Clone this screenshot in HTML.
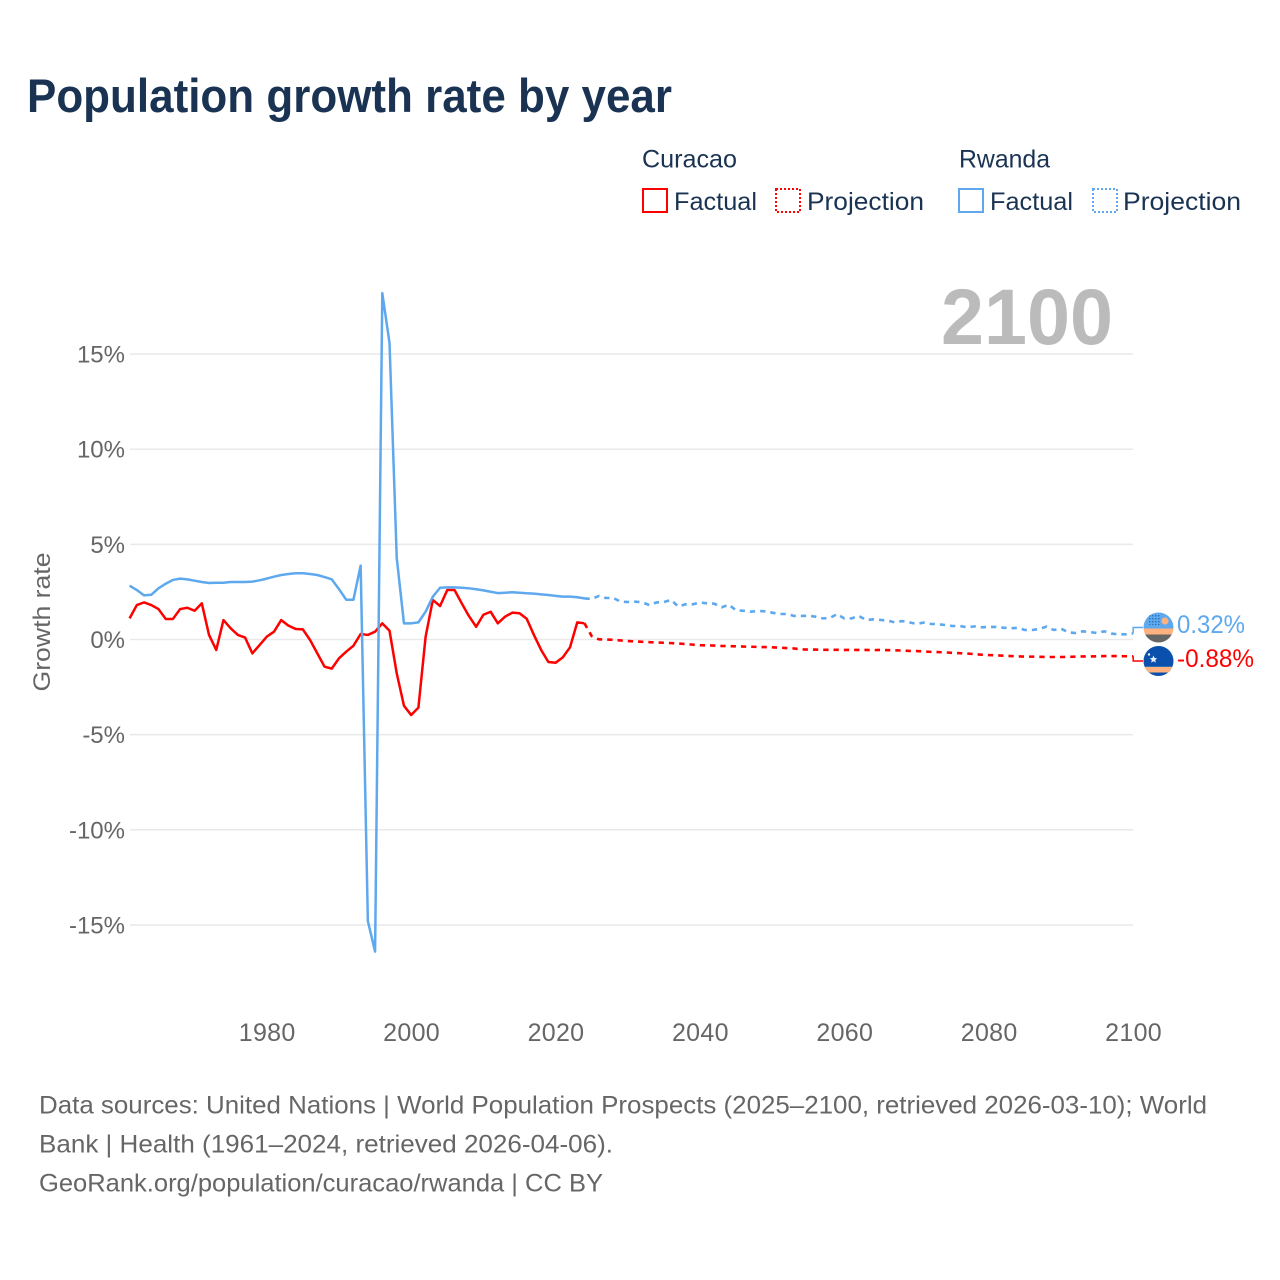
<!DOCTYPE html>
<html lang="en">
<head>
<meta charset="utf-8">
<title>Population growth rate by year</title>
<style>
html,body{margin:0;padding:0;background:#fff;width:1280px;height:1280px;overflow:hidden}
svg{display:block;font-family:"Liberation Sans",sans-serif}
</style>
</head>
<body>
<svg id="chart" width="1280" height="1280" viewBox="0 0 1280 1280">
  <defs>
    <clipPath id="clip-rw"><circle cx="1158.5" cy="627.5" r="15"/></clipPath>
    <clipPath id="clip-cw"><circle cx="1158.5" cy="661" r="15"/></clipPath>
    <pattern id="dots" width="3" height="3" patternUnits="userSpaceOnUse"><rect width="1.4" height="1.4" fill="#2f6fb5"/></pattern>
  </defs>

  <text x="27" y="112" font-size="47" font-weight="700" fill="#1a3353" textLength="645" lengthAdjust="spacingAndGlyphs">Population growth rate by year</text>

  <g>
    <text x="642" y="167.5" font-size="25" fill="#1a3353" textLength="95" lengthAdjust="spacingAndGlyphs">Curacao</text>
    <rect x="643" y="189" width="24" height="23" fill="none" stroke="#ff0000" stroke-width="2"/>
    <text x="674" y="210" font-size="25" fill="#1a3353" textLength="83" lengthAdjust="spacingAndGlyphs">Factual</text>
    <rect x="776" y="189" width="24" height="23" fill="none" stroke="#ff0000" stroke-width="2" stroke-dasharray="2 2"/>
    <text x="807" y="210" font-size="25" fill="#1a3353" textLength="117" lengthAdjust="spacingAndGlyphs">Projection</text>
    <text x="959" y="167.5" font-size="25" fill="#1a3353" textLength="91" lengthAdjust="spacingAndGlyphs">Rwanda</text>
    <rect x="959" y="189" width="24" height="23" fill="none" stroke="#5ea8ee" stroke-width="2"/>
    <text x="990" y="210" font-size="25" fill="#1a3353" textLength="83" lengthAdjust="spacingAndGlyphs">Factual</text>
    <rect x="1093" y="189" width="24" height="23" fill="none" stroke="#5ea8ee" stroke-width="2" stroke-dasharray="2 2"/>
    <text x="1123" y="210" font-size="25" fill="#1a3353" textLength="118" lengthAdjust="spacingAndGlyphs">Projection</text>
  </g>

  <g id="grid"></g>
  <g id="yaxis"></g>
  <g id="xaxis"></g>

  <text x="1113" y="344" font-size="79" font-weight="700" fill="#bbbbbb" text-anchor="end" textLength="172" lengthAdjust="spacingAndGlyphs">2100</text>

  <text transform="translate(50,622) rotate(-90)" font-size="24.5" fill="#666666" text-anchor="middle" textLength="139" lengthAdjust="spacingAndGlyphs">Growth rate</text>

  <g id="series"></g>

  <g clip-path="url(#clip-rw)">
    <rect x="1143" y="612" width="31" height="16.5" fill="#5ea8ee"/>
    <rect x="1148" y="615" width="13" height="10" fill="url(#dots)"/>
    <circle cx="1165" cy="621" r="3.5" fill="#ffb27f"/>
    <rect x="1143" y="628.5" width="31" height="6" fill="#ffb27f"/>
    <rect x="1143" y="634.5" width="31" height="9" fill="#666666"/>
  </g>
  <g clip-path="url(#clip-cw)">
    <rect x="1143" y="645" width="31" height="32" fill="#0a50ac"/>
    <rect x="1143" y="666" width="31" height="6.5" fill="#ffb27f"/>
    <rect x="1143" y="666" width="31" height="1" fill="#2f6fb5"/>
    <polygon points="1153.5,655.5 1154.6,658 1157.2,658.2 1155.2,660 1155.9,662.6 1153.5,661.2 1151.1,662.6 1151.8,660 1149.8,658.2 1152.4,658" fill="#e8f0fb"/>
    <circle cx="1149" cy="654.5" r="1.2" fill="#e8f0fb"/>
  </g>

  <g id="labels"></g>

  <g font-size="25" fill="#666666">
    <text x="39" y="1113.5" textLength="1168" lengthAdjust="spacingAndGlyphs">Data sources: United Nations | World Population Prospects (2025–2100, retrieved 2026-03-10); World</text>
    <text x="39" y="1152.5" textLength="574" lengthAdjust="spacingAndGlyphs">Bank | Health (1961–2024, retrieved 2026-04-06).</text>
    <text x="39" y="1191.5" textLength="564" lengthAdjust="spacingAndGlyphs">GeoRank.org/population/curacao/rwanda | CC BY</text>
  </g>
</svg>

<script>
const yTickValues = [15, 10, 5, 0, -5, -10, -15];
const xTickYears = [1980, 2000, 2020, 2040, 2060, 2080, 2100];
const factualStartYear = 1961;
const projectionStartYear = 2024;

const curacaoFactual = [1.11,1.81,1.95,1.81,1.6,1.08,1.08,1.6,1.67,1.51,1.9,0.24,-0.55,1.02,0.59,0.24,0.1,-0.73,-0.29,0.15,0.41,1.02,0.73,0.55,0.53,-0.03,-0.73,-1.43,-1.53,-0.99,-0.64,-0.33,0.29,0.24,0.41,0.85,0.46,-1.78,-3.48,-3.97,-3.58,0.15,2.08,1.76,2.6,2.6,1.9,1.23,0.67,1.3,1.46,0.85,1.2,1.41,1.38,1.09,0.24,-0.55,-1.18,-1.22,-0.94,-0.41,0.9,0.85];
const rwandaFactual = [2.83,2.6,2.32,2.35,2.69,2.93,3.13,3.2,3.16,3.09,3.02,2.97,2.98,2.98,3.02,3.02,3.02,3.04,3.11,3.2,3.3,3.39,3.44,3.48,3.48,3.44,3.39,3.28,3.16,2.65,2.09,2.09,3.88,-14.8,-16.4,18.2,15.58,4.28,0.85,0.85,0.9,1.46,2.25,2.72,2.74,2.74,2.72,2.69,2.64,2.58,2.51,2.44,2.46,2.48,2.46,2.43,2.41,2.37,2.34,2.29,2.25,2.25,2.22,2.16];
const curacaoProjection = [0.85,0.18,0.01,0,-0.02,-0.05,-0.08,-0.1,-0.12,-0.14,-0.16,-0.17,-0.19,-0.21,-0.24,-0.27,-0.3,-0.31,-0.32,-0.34,-0.35,-0.36,-0.37,-0.38,-0.39,-0.4,-0.41,-0.43,-0.45,-0.47,-0.52,-0.53,-0.53,-0.54,-0.54,-0.54,-0.55,-0.55,-0.55,-0.55,-0.56,-0.55,-0.56,-0.57,-0.58,-0.6,-0.61,-0.63,-0.65,-0.66,-0.68,-0.7,-0.72,-0.74,-0.77,-0.8,-0.82,-0.83,-0.85,-0.87,-0.89,-0.9,-0.9,-0.91,-0.92,-0.92,-0.92,-0.91,-0.9,-0.89,-0.89,-0.88,-0.87,-0.87,-0.87,-0.88,-0.88];
const rwandaProjection = [2.16,2.13,2.29,2.18,2.18,1.99,1.97,1.99,1.95,1.81,1.95,1.97,2.08,1.73,1.85,1.85,1.94,1.9,1.88,1.69,1.83,1.53,1.51,1.46,1.5,1.48,1.41,1.34,1.34,1.24,1.24,1.25,1.2,1.11,1.13,1.34,1.1,1.11,1.24,1.02,1.06,1.03,0.99,0.9,0.97,0.9,0.82,0.89,0.82,0.8,0.76,0.71,0.71,0.64,0.69,0.64,0.66,0.66,0.62,0.59,0.61,0.5,0.5,0.55,0.68,0.5,0.57,0.38,0.34,0.43,0.39,0.34,0.43,0.31,0.27,0.27,0.32];

const SVGNS = 'http://www.w3.org/2000/svg';
const xScale = year => 129.6 + (year - 1961) * 7.22;
const yScale = value => 639.5 - value * 19.03;

function make(tag, attrs, parent, content) {
  const el = document.createElementNS(SVGNS, tag);
  Object.keys(attrs).forEach(k => el.setAttribute(k, attrs[k]));
  if (content !== undefined) el.textContent = content;
  parent.appendChild(el);
  return el;
}

function linePoints(values, startYear) {
  return values.map((v, i) => xScale(startYear + i).toFixed(2) + ',' + yScale(v).toFixed(2)).join(' ');
}

const grid = document.getElementById('grid');
const yaxis = document.getElementById('yaxis');
const xaxis = document.getElementById('xaxis');
const series = document.getElementById('series');
const labels = document.getElementById('labels');

yTickValues.forEach(v => {
  const line = make('line', {x1: 130, x2: 1133, y1: yScale(v), y2: yScale(v), stroke: '#e9e9e9', 'stroke-width': 1.5}, grid);
  
  
  const tick = make('text', {x: 125, y: yScale(v) + 8.5, 'font-size': 24, fill: '#666666', 'text-anchor': 'end'}, yaxis, v + '%');
  
  
});

xTickYears.forEach(year => {
  const tick = make('text', {x: xScale(year) + 0.4, y: 1041, 'font-size': 25, fill: '#666666', 'text-anchor': 'middle', 'letter-spacing': '0.3'}, xaxis, String(year));
  
  
});

const red = '#ff0000';
const blue = '#5ea8ee';

const curacaoProjLine = make('polyline', {points: linePoints(curacaoProjection, projectionStartYear), fill: 'none', stroke: red, 'stroke-width': 2.6, 'stroke-dasharray': '5.3 5', 'stroke-linejoin': 'round'}, series);



const curacaoLine = make('polyline', {points: linePoints(curacaoFactual, factualStartYear), fill: 'none', stroke: red, 'stroke-width': 2.5, 'stroke-linejoin': 'round'}, series);



const rwandaProjLine = make('polyline', {points: linePoints(rwandaProjection, projectionStartYear), fill: 'none', stroke: blue, 'stroke-width': 2.6, 'stroke-dasharray': '5.3 5', 'stroke-linejoin': 'round'}, series);



const rwandaLine = make('polyline', {points: linePoints(rwandaFactual, factualStartYear), fill: 'none', stroke: blue, 'stroke-width': 2.5, 'stroke-linejoin': 'round'}, series);



const lastYear = projectionStartYear + rwandaProjection.length - 1;
const rwandaLast = rwandaProjection[rwandaProjection.length - 1];
const curacaoLast = curacaoProjection[curacaoProjection.length - 1];

const rwandaConnector = make('polyline', {points: xScale(lastYear) + ',' + yScale(rwandaLast) + ' ' + xScale(lastYear) + ',627.5 1143,627.5', fill: 'none', stroke: blue, 'stroke-width': 1.5}, series);



const curacaoConnector = make('polyline', {points: xScale(lastYear) + ',' + yScale(curacaoLast) + ' ' + xScale(lastYear) + ',661 1143,661', fill: 'none', stroke: red, 'stroke-width': 1.5}, series);



const rwandaLabel = make('text', {x: 1177, y: 633, 'font-size': 25, fill: blue, textLength: 68, lengthAdjust: 'spacingAndGlyphs'}, labels, rwandaLast.toFixed(2) + '%');



const curacaoLabel = make('text', {x: 1177, y: 667, 'font-size': 25, fill: red, textLength: 77, lengthAdjust: 'spacingAndGlyphs'}, labels, curacaoLast.toFixed(2) + '%');


</script>
</body>
</html>
